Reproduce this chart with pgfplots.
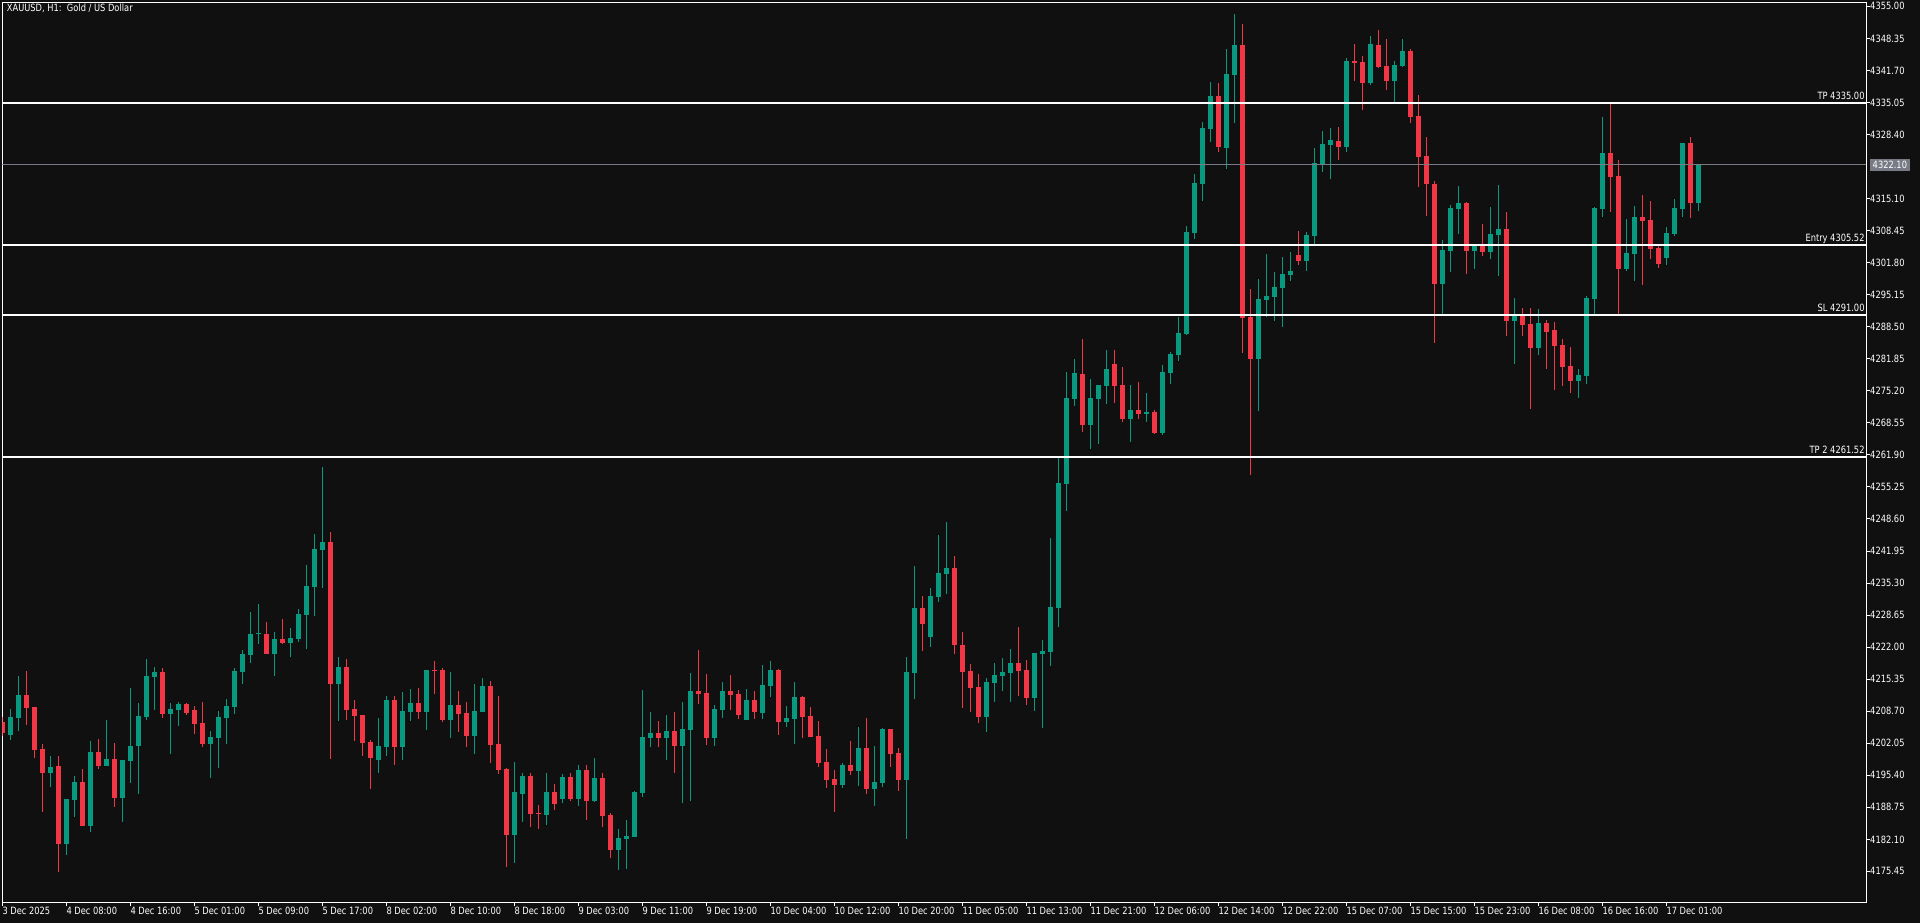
\documentclass[border=0pt]{standalone}
\usepackage{fontspec}
\setmainfont{DejaVu Sans}[FakeStretch=0.83]
\usepackage{pgfplots}
\pgfplotsset{compat=1.18}
\usepackage{pgfplotstable}

\definecolor{bg}{HTML}{101010}
\definecolor{up}{HTML}{089981}
\definecolor{dn}{HTML}{F23645}
\definecolor{cur}{HTML}{787B86}
\newcommand\lbl{\fontsize{10}{12}\selectfont}

% hourly candles, XAUUSD H1 (k = bar index)
\pgfplotstableread{
k o h l c
0 4206.46 4207.40 4203.50 4204.18
1 4203.76 4209.16 4202.72 4207.50
2 4207.36 4216.01 4204.66 4212.06
3 4212.06 4217.05 4205.91 4209.44
4 4209.57 4209.60 4199.06 4200.72
5 4200.86 4201.89 4187.85 4195.94
6 4195.94 4199.40 4193.04 4197.12
7 4197.33 4199.40 4175.40 4181.21
8 4181.21 4190.48 4178.92 4190.48
9 4190.34 4195.25 4186.81 4194.01
10 4194.01 4196.71 4184.94 4184.94
11 4184.94 4202.52 4183.70 4200.23
12 4200.23 4202.93 4196.77 4197.40
13 4197.40 4206.88 4197.40 4198.78
14 4198.78 4202.10 4188.89 4190.76
15 4190.76 4198.57 4185.77 4198.57
16 4198.44 4213.52 4193.87 4201.48
17 4201.48 4210.40 4191.59 4207.71
18 4207.50 4219.54 4206.88 4216.01
19 4215.80 4217.88 4208.95 4216.84
20 4216.84 4217.67 4207.29 4208.12
21 4208.12 4210.40 4199.82 4209.16
22 4208.95 4210.61 4205.63 4210.20
23 4210.20 4210.40 4207.91 4208.33
24 4208.95 4209.78 4203.97 4206.05
25 4206.26 4210.61 4201.27 4201.90
26 4201.90 4204.59 4194.84 4203.35
27 4203.14 4208.75 4196.91 4207.50
28 4207.29 4211.24 4201.90 4209.78
29 4209.58 4217.67 4208.12 4217.05
30 4216.84 4221.41 4214.35 4220.58
31 4220.37 4229.29 4218.71 4224.73
32 4224.66 4230.95 4222.65 4224.70
33 4224.73 4227.22 4220.50 4220.58
34 4220.58 4225.15 4216.01 4223.69
35 4223.69 4227.84 4222.65 4222.86
36 4222.86 4225.97 4219.95 4223.90
37 4223.69 4229.92 4223.07 4228.88
38 4228.67 4239.05 4221.61 4234.69
39 4234.48 4245.48 4228.46 4242.37
40 4242.16 4259.39 4234.28 4243.82
41 4243.82 4245.90 4198.78 4214.35
42 4214.35 4219.95 4206.67 4217.88
43 4217.88 4219.54 4206.88 4208.95
44 4209.16 4211.03 4202.52 4207.71
45 4207.92 4207.92 4199.41 4202.10
46 4202.31 4202.73 4192.60 4198.99
47 4198.58 4207.29 4195.88 4201.48
48 4201.27 4211.86 4199.41 4211.03
49 4211.03 4211.86 4197.54 4201.28
50 4201.28 4212.69 4198.58 4208.75
51 4208.54 4213.32 4206.67 4210.41
52 4210.41 4213.52 4207.09 4208.54
53 4208.54 4217.30 4204.81 4217.26
54 4217.19 4219.13 4212.28 4217.10
55 4217.26 4217.67 4206.47 4206.88
56 4206.88 4216.84 4203.15 4209.99
57 4209.99 4212.90 4204.39 4208.13
58 4208.33 4210.62 4201.28 4203.56
59 4203.56 4214.35 4199.82 4208.75
60 4208.54 4215.60 4208.50 4213.94
61 4213.94 4214.98 4197.96 4201.69
62 4201.90 4211.86 4195.67 4196.50
63 4196.71 4196.90 4176.37 4183.01
64 4183.01 4198.16 4177.20 4191.94
65 4191.52 4195.88 4185.71 4195.26
66 4195.26 4195.88 4184.67 4187.37
67 4187.50 4189.24 4184.26 4187.37
68 4187.16 4195.88 4185.09 4191.94
69 4191.94 4193.60 4188.20 4189.45
70 4190.48 4195.67 4189.65 4195.05
71 4195.05 4195.88 4190.07 4190.48
72 4190.48 4197.54 4189.03 4196.50
73 4196.50 4197.54 4186.12 4190.06
74 4190.06 4198.99 4189.86 4194.84
75 4194.84 4195.88 4184.67 4186.95
76 4187.16 4187.57 4178.23 4179.89
77 4179.89 4184.25 4175.74 4182.38
78 4182.17 4186.12 4175.95 4182.80
79 4182.59 4192.14 4182.50 4191.93
80 4191.72 4213.10 4190.89 4203.35
81 4203.14 4208.54 4201.27 4204.18
82 4204.18 4206.67 4201.27 4203.14
83 4203.14 4207.91 4198.57 4204.59
84 4204.59 4208.54 4195.88 4201.48
85 4201.48 4210.61 4189.65 4205.01
86 4204.80 4216.63 4190.06 4212.89
87 4212.89 4221.40 4210.20 4212.27
88 4212.48 4216.42 4201.69 4203.14
89 4203.14 4209.99 4201.48 4209.16
90 4208.95 4214.76 4207.29 4212.89
91 4212.89 4216.22 4208.95 4212.06
92 4212.27 4213.10 4207.08 4207.91
93 4206.88 4213.31 4206.88 4211.03
94 4211.03 4212.89 4207.08 4208.54
95 4208.33 4218.29 4207.08 4214.14
96 4213.93 4219.12 4211.65 4217.25
97 4217.25 4217.46 4203.76 4206.46
98 4206.46 4209.78 4205.42 4207.29
99 4207.08 4214.76 4201.89 4211.65
100 4211.65 4211.85 4203.14 4207.50
101 4207.71 4209.57 4203.30 4203.35
102 4203.56 4206.67 4197.12 4197.95
103 4198.16 4200.86 4192.76 4194.42
104 4194.63 4196.50 4187.78 4193.38
105 4193.38 4197.95 4192.76 4197.54
106 4197.54 4202.52 4195.46 4196.29
107 4196.29 4205.42 4193.18 4201.06
108 4201.06 4207.29 4191.52 4192.55
109 4192.55 4201.48 4189.03 4194.01
110 4193.80 4205.20 4192.97 4205.01
111 4205.01 4205.05 4197.12 4199.82
112 4200.03 4201.06 4192.14 4194.42
113 4194.42 4219.95 4182.18 4216.84
114 4216.63 4238.84 4211.23 4230.12
115 4230.12 4232.61 4221.20 4226.80
116 4224.10 4234.27 4222.03 4232.61
117 4232.40 4245.27 4231.37 4237.39
118 4237.18 4247.97 4233.03 4238.42
119 4238.42 4240.91 4220.57 4222.44
120 4222.44 4225.14 4209.37 4216.84
121 4217.05 4218.50 4208.54 4213.52
122 4213.73 4216.43 4206.26 4207.50
123 4207.50 4215.60 4204.39 4214.76
124 4214.56 4218.71 4210.61 4216.22
125 4216.01 4219.75 4212.90 4216.84
126 4216.63 4221.61 4210.61 4218.71
127 4218.71 4226.18 4211.86 4217.05
128 4217.26 4219.33 4209.99 4211.45
129 4211.45 4220.80 4208.75 4220.78
130 4220.57 4223.48 4205.22 4221.20
131 4221.00 4244.65 4218.09 4230.33
132 4230.12 4261.46 4226.18 4256.07
133 4255.86 4279.11 4250.26 4273.71
134 4273.50 4281.81 4272.05 4278.90
135 4278.69 4285.96 4266.65 4268.11
136 4268.11 4277.65 4263.13 4273.71
137 4273.50 4276.41 4264.16 4276.41
138 4276.20 4283.67 4272.47 4279.73
139 4280.77 4283.67 4272.67 4276.20
140 4276.41 4280.15 4268.73 4269.35
141 4269.35 4276.41 4264.58 4271.22
142 4271.22 4277.03 4269.35 4270.39
143 4270.39 4274.75 4268.73 4270.80
144 4270.81 4271.22 4266.24 4266.45
145 4266.45 4280.56 4266.03 4279.11
146 4278.90 4283.26 4276.62 4282.85
147 4282.64 4290.52 4281.39 4287.20
148 4287.00 4309.41 4286.79 4308.17
149 4307.96 4320.21 4306.71 4318.34
150 4318.13 4331.00 4314.60 4329.75
151 4329.54 4339.30 4326.85 4336.39
152 4336.39 4339.09 4324.77 4325.81
153 4325.60 4346.15 4321.24 4340.96
154 4340.75 4353.41 4330.79 4346.98
155 4346.98 4351.34 4283.05 4290.32
156 4290.52 4296.34 4257.73 4281.81
157 4281.81 4298.41 4271.02 4294.26
158 4294.05 4303.60 4290.52 4294.88
159 4294.68 4299.87 4289.70 4296.75
160 4296.54 4302.98 4288.45 4299.45
161 4299.24 4304.02 4298.00 4300.07
162 4303.39 4308.37 4301.32 4302.15
163 4302.15 4308.17 4300.07 4307.54
164 4307.34 4325.60 4305.68 4322.49
165 4322.28 4329.13 4320.62 4326.43
166 4326.23 4329.75 4319.17 4327.26
167 4327.06 4329.96 4323.11 4325.81
168 4325.80 4344.27 4324.76 4343.65
169 4343.65 4347.18 4339.50 4343.24
170 4343.44 4344.69 4333.48 4339.08
171 4339.08 4348.84 4338.67 4347.18
172 4346.97 4350.08 4342.20 4342.41
173 4342.61 4348.22 4337.63 4339.50
174 4339.50 4343.65 4335.14 4342.82
175 4342.61 4348.22 4342.40 4345.73
176 4345.73 4346.14 4330.78 4332.03
177 4332.23 4336.59 4317.50 4323.72
178 4323.93 4327.88 4311.48 4318.12
179 4318.12 4318.74 4285.12 4297.37
180 4297.37 4306.50 4290.93 4304.42
181 4304.21 4313.76 4299.86 4313.14
182 4312.93 4317.71 4307.74 4314.18
183 4314.18 4314.40 4299.44 4304.21
184 4304.21 4305.30 4300.48 4305.25
185 4305.25 4309.82 4303.18 4304.01
186 4304.01 4313.35 4302.55 4307.74
187 4307.53 4317.91 4299.03 4308.78
188 4308.78 4312.31 4286.57 4289.69
189 4289.69 4294.46 4280.76 4290.72
190 4290.72 4292.38 4286.57 4288.86
191 4289.07 4292.39 4271.43 4284.09
192 4284.09 4292.19 4282.64 4289.28
193 4289.28 4289.90 4279.73 4287.41
194 4287.83 4289.49 4275.37 4284.51
195 4284.71 4285.96 4276.20 4280.15
196 4280.36 4284.30 4274.75 4277.24
197 4277.24 4279.73 4273.71 4278.49
198 4278.28 4294.88 4276.62 4294.47
199 4294.26 4313.36 4291.15 4313.15
200 4312.94 4332.04 4311.28 4324.56
201 4324.56 4334.73 4312.32 4319.58
202 4319.79 4323.11 4291.15 4300.49
203 4300.49 4310.87 4300.07 4303.81
204 4303.60 4313.56 4298.00 4311.28
205 4311.28 4315.85 4297.17 4310.45
206 4310.66 4314.60 4302.56 4304.64
207 4304.85 4305.26 4300.70 4301.53
208 4302.77 4309.20 4301.32 4307.96
209 4307.75 4315.02 4307.34 4313.15
210 4312.94 4326.70 4311.28 4326.64
211 4326.64 4327.88 4311.07 4314.19
212 4314.19 4322.10 4312.53 4322.10
}\candles

\begin{document}
\begin{tikzpicture}
\fill[bg] (0,0) rectangle (1920pt,923pt);
\begin{axis}[
    at={(2.33pt,20.5pt)}, anchor=south west,
    scale only axis, width=1863.7pt, height=900.2pt,
    xmin=0, xmax=232.96, ymin=4169.0, ymax=4355.84,
    clip mode=individual,
    axis line style={white, line width=1pt},
    tick align=outside, major tick length=4pt,
    tick style={white, line width=1pt},
    xtick pos=bottom, xticklabel pos=bottom,
    ytick pos=right, yticklabel pos=right,
    xtick={0,8,...,208},
    xticklabels={3 Dec 2025, 4 Dec 08:00, 4 Dec 16:00, 5 Dec 01:00, 5 Dec 09:00,
        5 Dec 17:00, 8 Dec 02:00, 8 Dec 10:00, 8 Dec 18:00, 9 Dec 03:00,
        9 Dec 11:00, 9 Dec 19:00, 10 Dec 04:00, 10 Dec 12:00, 10 Dec 20:00,
        11 Dec 05:00, 11 Dec 13:00, 11 Dec 21:00, 12 Dec 06:00, 12 Dec 14:00,
        12 Dec 22:00, 15 Dec 07:00, 15 Dec 15:00, 15 Dec 23:00, 16 Dec 08:00,
        16 Dec 16:00, 17 Dec 01:00},
    ytick={4175.45,4182.10,4188.75,4195.40,4202.05,4208.70,4215.35,4222.00,
        4228.65,4235.30,4241.95,4248.60,4255.25,4261.90,4268.55,4275.20,
        4281.85,4288.50,4295.15,4301.80,4308.45,4315.10,4328.40,4335.05,
        4341.70,4348.35,4355.00},
    yticklabels={4175.45,4182.10,4188.75,4195.40,4202.05,4208.70,4215.35,4222.00,
        4228.65,4235.30,4241.95,4248.60,4255.25,4261.90,4268.55,4275.20,
        4281.85,4288.50,4295.15,4301.80,4308.45,4315.10,4328.40,4335.05,
        4341.70,4348.35,4355.00},
    xticklabel style={anchor=north west, inner sep=0pt, text=white, font=\lbl},
    yticklabel style={anchor=west, inner sep=0pt, text=white, font=\lbl},
]
% wicks: a segment from low to high
\addplot[up, line width=1pt, mark=none, forget plot,
    quiver={u=0, v=\thisrow{h}-\thisrow{l}}]
    table[x=k, y expr={\thisrow{c}<\thisrow{o} ? nan : \thisrow{l}}] {\candles};
\addplot[dn, line width=1pt, mark=none, forget plot,
    quiver={u=0, v=\thisrow{h}-\thisrow{l}}]
    table[x=k, y expr={\thisrow{c}<\thisrow{o} ? \thisrow{l} : nan}] {\candles};
% bodies: a 5px segment from min(open,close) to max(open,close)
\addplot[up, line width=5pt, mark=none, forget plot,
    quiver={u=0, v={max(\thisrow{c}-\thisrow{o},0.21)}}]
    table[x=k, y expr={\thisrow{c}<\thisrow{o} ? nan : \thisrow{o}}] {\candles};
\addplot[dn, line width=5pt, mark=none, forget plot,
    quiver={u=0, v={max(\thisrow{o}-\thisrow{c},0.21)}}]
    table[x=k, y expr={\thisrow{c}<\thisrow{o} ? \thisrow{c} : nan}] {\candles};

% bid line and trade levels
\addplot[cur, line width=1pt] coordinates {(0,4322.10) (233,4322.10)};
\addplot[white, line width=2pt] coordinates {(0,4335.00) (233,4335.00)};
\addplot[white, line width=2pt] coordinates {(0,4305.52) (233,4305.52)};
\addplot[white, line width=2pt] coordinates {(0,4291.00) (233,4291.00)};
\addplot[white, line width=2pt] coordinates {(0,4261.52) (233,4261.52)};

\node[anchor=base east, inner sep=0pt, text=white, font=\lbl, yshift=3.5pt] at (axis cs:232.8,4335.00) {TP 4335.00};
\node[anchor=base east, inner sep=0pt, text=white, font=\lbl, yshift=3.5pt] at (axis cs:232.8,4305.52) {Entry 4305.52};
\node[anchor=base east, inner sep=0pt, text=white, font=\lbl, yshift=3.5pt] at (axis cs:232.8,4291.00) {SL 4291.00};
\node[anchor=base east, inner sep=0pt, text=white, font=\lbl, yshift=3.5pt] at (axis cs:232.8,4261.52) {TP 2 4261.52};
\node[anchor=west, fill=cur, text=white, font=\lbl, inner xsep=2.5pt, inner ysep=2.3pt, xshift=4pt] at (axis cs:232.96,4322.10) {4322.10};
\end{axis}
\node[anchor=base west, inner sep=0pt, text=white, font=\lbl] at (6.7pt,911pt) {XAUUSD, H1:\ \ Gold / US Dollar};
\pgfresetboundingbox
\path (0,0) rectangle (1920pt,923pt);
\end{tikzpicture}
\end{document}
